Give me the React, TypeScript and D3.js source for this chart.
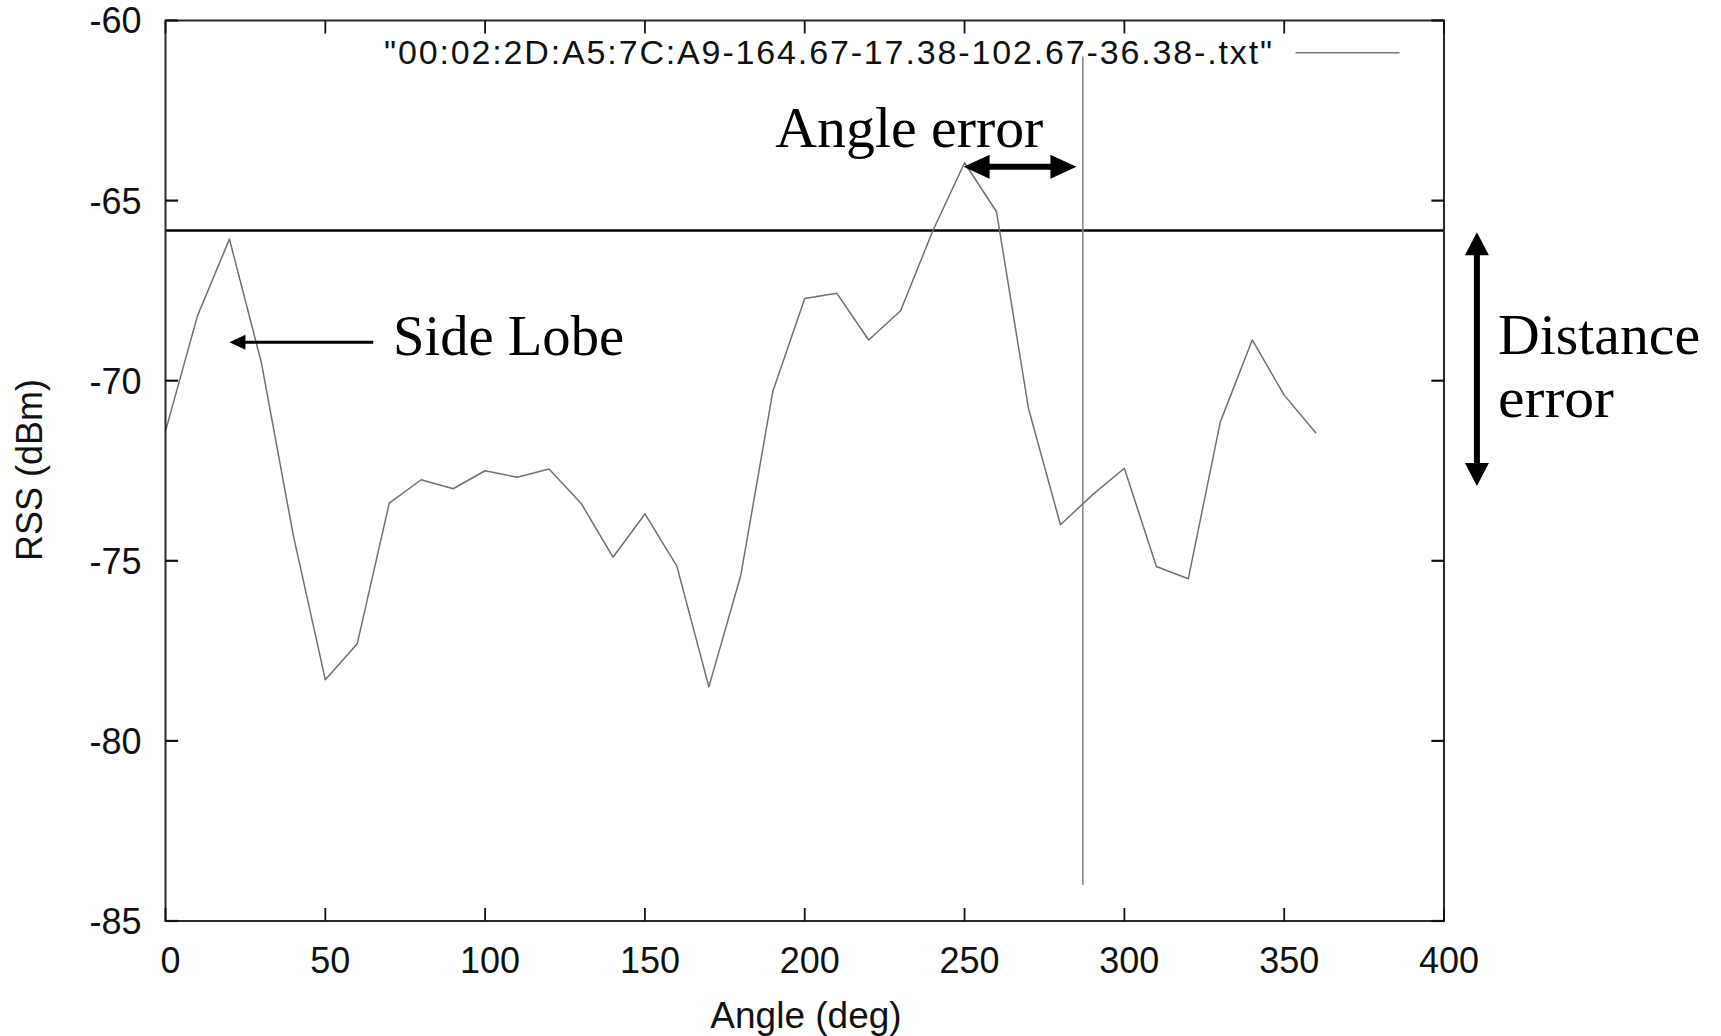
import React from "react";
import * as d3 from "d3";

// ---- data ----
const angles = [0, 10, 20, 30, 40, 50, 60, 70, 80, 90, 100, 110, 120, 130, 140, 150, 160, 170, 180, 190, 200, 210, 220, 230, 240, 250, 260, 270, 280, 290, 300, 310, 320, 330, 340, 350, 360];
const rss = [-71.4, -68.2, -66.07, -69.5, -74.3, -78.3, -77.3, -73.4, -72.75, -73.0, -72.5, -72.68, -72.45, -73.4, -74.9, -73.7, -75.15, -78.5, -75.4, -70.3, -67.72, -67.57, -68.87, -68.06, -65.85, -63.95, -65.31, -70.77, -74.0, -73.17, -72.43, -75.16, -75.5, -71.15, -68.87, -70.4, -71.46];
const xTicks = [0, 50, 100, 150, 200, 250, 300, 350, 400];
const yTicks = [-60, -65, -70, -75, -80, -85];
const xDomain = [0, 400];
const yDomain = [-85, -60];
const legendLabel = '"00:02:2D:A5:7C:A9-164.67-17.38-102.67-36.38-.txt"';
const xLabel = "Angle (deg)";
const yLabel = "RSS (dBm)";
const thresholdRss = -65.83;
const estimateAngle = 287;
const estimateRange = [-61.0, -84.0];
// annotations (data coordinates)
const sideLobeLabel = "Side Lobe";
const sideLobeArrow = { from: 65, to: 20, rss: -68.93 };
const sideLobeText = { angle: 71.2, rss: -69.29 };
const angleErrLabel = "Angle error";
const angleErrText = { angle: 190.8, rss: -63.51 };
const angleErrArrow = { from: 249.7, to: 285.0, rss: -64.06 };
const distErrLabels = ["Distance", "error"];
const distErrArrow = { angle: 410.3, from: -65.88, to: -72.92 };
const distErrText = { angle: 416.9, rss: [-69.26, -71.0] };

const W = 1721;
const H = 1036;

export default function App() {
  const x = d3.scaleLinear().domain(xDomain).range([165.5, 1444]);
  const y = d3.scaleLinear().domain(yDomain).range([921, 20.5]);
  const [x0, x1] = x.range();
  const [y0, y1] = y.range();
  const pts = angles.map((a, i) => [a, rss[i]] as [number, number]);
  const line = d3.line<[number, number]>().x((d) => x(d[0])).y((d) => y(d[1]));
  const sans = "'Liberation Sans', Arial, Helvetica, sans-serif";
  const serif = "'Liberation Serif', 'Times New Roman', serif";
  const tl = 12.6;

  const hArrowHead = (tipX: number, tipY: number, dir: number, len: number, hw: number) =>
    `M${tipX},${tipY} L${tipX - dir * len},${tipY - hw} L${tipX - dir * len},${tipY + hw} Z`;
  const vArrowHead = (tipX: number, tipY: number, dir: number, len: number, hw: number) =>
    `M${tipX},${tipY} L${tipX - hw},${tipY - dir * len} L${tipX + hw},${tipY - dir * len} Z`;

  const slY = y(sideLobeArrow.rss);
  const slTip = x(sideLobeArrow.to);
  const slTail = x(sideLobeArrow.from);
  const aeY = y(angleErrArrow.rss);
  const aeL = x(angleErrArrow.from);
  const aeR = x(angleErrArrow.to);
  const deX = x(distErrArrow.angle);
  const deT = y(distErrArrow.from);
  const deB = y(distErrArrow.to);

  return (
    <div style={{ position: "fixed", left: 0, top: 0, width: W, height: H, background: "#fff" }}>
      <svg width={W} height={H} viewBox={`0 0 ${W} ${H}`} style={{ display: "block" }}>
        <rect x={0} y={0} width={W} height={H} fill="#fff" />
        {/* threshold line */}
        <line x1={x0} x2={x1} y1={y(thresholdRss)} y2={y(thresholdRss)} stroke="#000" strokeWidth={2.6} />
        {/* estimate vertical line */}
        <line x1={x(estimateAngle)} x2={x(estimateAngle)} y1={y(estimateRange[0])} y2={y(estimateRange[1])} stroke="#888" strokeWidth={1.6} />
        {/* data */}
        <path d={line(pts) || ""} fill="none" stroke="#707070" strokeWidth={1.5} strokeLinejoin="round" />
        {/* border */}
        <rect x={x0} y={y1} width={x1 - x0} height={y0 - y1} fill="none" stroke="#2a2a2a" strokeWidth={2} />
        {/* y ticks */}
        {yTicks.map((t) => (
          <g key={"y" + t}>
            <line x1={x0} x2={x0 + tl} y1={y(t)} y2={y(t)} stroke="#111" strokeWidth={2.2} />
            <line x1={x1 - tl} x2={x1} y1={y(t)} y2={y(t)} stroke="#111" strokeWidth={2.2} />
            <text x={x0 - 24} y={y(t)} dy="0.36em" textAnchor="end" fontFamily={sans} fontSize={36} fill="#111">
              {t}
            </text>
          </g>
        ))}
        {/* x ticks */}
        {xTicks.map((t) => (
          <g key={"x" + t}>
            <line x1={x(t)} x2={x(t)} y1={y0} y2={y0 - 13} stroke="#111" strokeWidth={1.8} />
            <line x1={x(t)} x2={x(t)} y1={y1} y2={y1 + 13} stroke="#111" strokeWidth={1.8} />
            <text x={x(t) + 5} y={972.5} textAnchor="middle" fontFamily={sans} fontSize={36} fill="#111">
              {t}
            </text>
          </g>
        ))}
        {/* axis labels */}
        <text x={806} y={1028} textAnchor="middle" fontFamily={sans} fontSize={37} fill="#111">
          {xLabel}
        </text>
        <text transform={`translate(41.5,470) rotate(-90)`} textAnchor="middle" fontFamily={sans} fontSize={36} fill="#111">
          {yLabel}
        </text>
        {/* legend */}
        <text x={1272} y={64} textAnchor="end" fontFamily={sans} fontSize={34} fill="#111" textLength={888} lengthAdjust="spacing">
          {legendLabel}
        </text>
        <line x1={1295.5} x2={1399.5} y1={52.7} y2={52.7} stroke="#777" strokeWidth={1.6} />
        {/* Side lobe annotation */}
        <line x1={slTail} x2={slTip + 12} y1={slY} y2={slY} stroke="#000" strokeWidth={3} />
        <path d={hArrowHead(slTip, slY, -1, 16, 7.5)} fill="#000" />
        <text x={x(sideLobeText.angle)} y={y(sideLobeText.rss)} fontFamily={serif} fontSize={56} fill="#000" textLength={231} lengthAdjust="spacingAndGlyphs">
          {sideLobeLabel}
        </text>
        {/* Angle error annotation */}
        <text x={x(angleErrText.angle)} y={y(angleErrText.rss)} fontFamily={serif} fontSize={56} fill="#000" textLength={268} lengthAdjust="spacingAndGlyphs">
          {angleErrLabel}
        </text>
        <line x1={aeL + 20} x2={aeR - 20} y1={aeY} y2={aeY} stroke="#000" strokeWidth={6} />
        <path d={hArrowHead(aeL, aeY, -1, 26, 12)} fill="#000" />
        <path d={hArrowHead(aeR, aeY, 1, 26, 12)} fill="#000" />
        {/* Distance error annotation */}
        <line x1={deX} x2={deX} y1={deT + 18} y2={deB - 18} stroke="#000" strokeWidth={6} />
        <path d={vArrowHead(deX, deT, -1, 23, 12)} fill="#000" />
        <path d={vArrowHead(deX, deB, 1, 23, 12)} fill="#000" />
        <text x={x(distErrText.angle)} y={y(distErrText.rss[0])} fontFamily={serif} fontSize={56} fill="#000" textLength={202} lengthAdjust="spacingAndGlyphs">
          {distErrLabels[0]}
        </text>
        <text x={x(distErrText.angle)} y={y(distErrText.rss[1])} fontFamily={serif} fontSize={56} fill="#000" textLength={116} lengthAdjust="spacingAndGlyphs">
          {distErrLabels[1]}
        </text>
      </svg>
    </div>
  );
}
